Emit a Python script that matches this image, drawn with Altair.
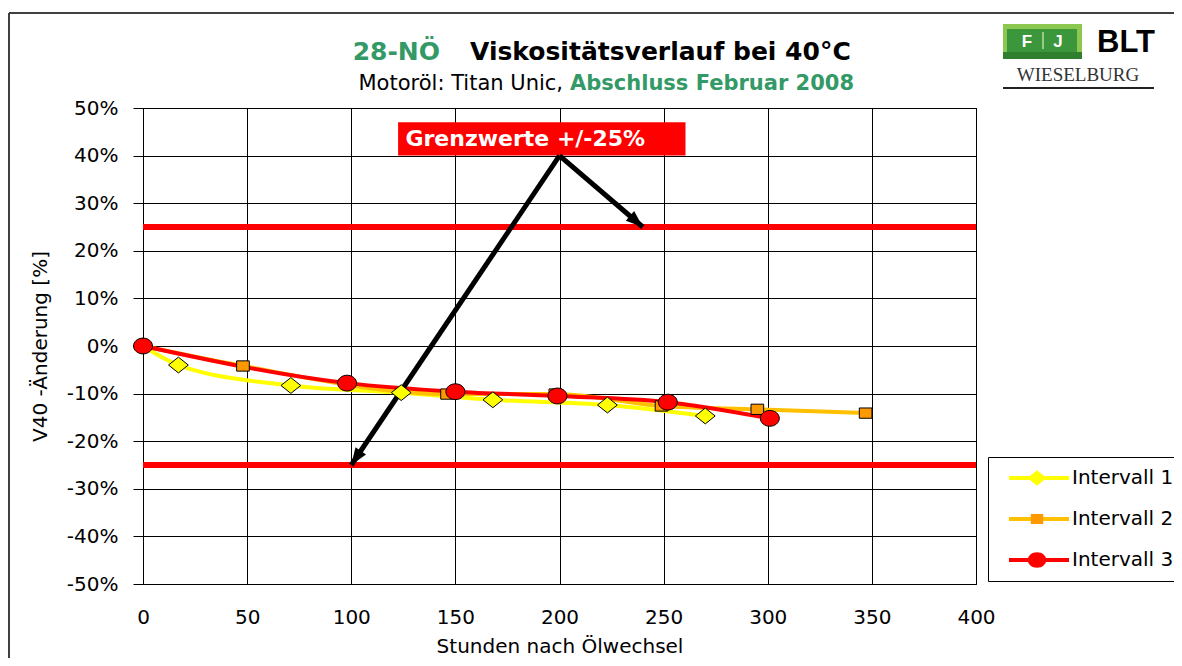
import altair as alt
import pandas as pd

# ---------------- data ----------------
series = ["Intervall 1", "Intervall 2", "Intervall 3"]
hours_1 = [0, 17, 71, 124, 168, 223, 270]
change_1 = [0.0, -4.0, -8.3, -9.8, -11.3, -12.4, -14.7]
hours_2 = [0, 48, 146, 198, 249, 295, 347]
change_2 = [0.0, -4.2, -10.1, -10.1, -12.6, -13.3, -14.1]
hours_3 = [0, 98, 150, 199, 252, 301]
change_3 = [0.0, -7.8, -9.6, -10.5, -11.8, -15.2]

limit_values = [25, -25]
x_tick_values = [0, 50, 100, 150, 200, 250, 300, 350, 400]
y_tick_values = [-50, -40, -30, -20, -10, 0, 10, 20, 30, 40, 50]

label_text = "Grenzwerte +/-25%"
label_box_hours = [122.5, 260.5]
label_box_change = [40.0, 47.0]
label_anchor_hours = [126]
label_anchor_change = [43.5]

arrow_start_hours = [200, 200]
arrow_start_change = [40, 40]
arrow_end_hours = [240, 100]
arrow_end_change = [25, -25]
arrow_angles = [131, 214]

# ---------------- styles ----------------
line_colors = ["#FFFF00", "#FFC000", "#FF0000"]
fill_colors = ["#FFFF00", "#FF9900", "#FF0000"]
shapes = [
    "M-1.25,0L0,-1L1.25,0L0,1Z",
    "M-0.8,-0.65L0.8,-0.65L0.8,0.65L-0.8,0.65Z",
    "M-1.2,0A1.2,1,0,1,0,1.2,0A1.2,1,0,1,0,-1.2,0Z",
]
GREEN = "#339966"
FONT = "DejaVu Sans"

line_names = [s + " " for s in series]  # distinct domain so the two legends stay separate

rows = []
for name, lname, hs, vs in zip(series, line_names, [hours_1, hours_2, hours_3],
                               [change_1, change_2, change_3]):
    for h, v in zip(hs, vs):
        rows.append({"h": h, "v": v, "Serie": name, "Linie": lname})
df = pd.DataFrame(rows)

limits_df = pd.DataFrame({"v": limit_values})
box_df = pd.DataFrame({"h": [label_box_hours[0]], "h2": [label_box_hours[1]],
                       "v": [label_box_change[0]], "v2": [label_box_change[1]]})
label_df = pd.DataFrame({"h": label_anchor_hours, "v": label_anchor_change, "t": [label_text]})
arrow_df = pd.DataFrame({"h": arrow_start_hours, "v": arrow_start_change,
                         "h2": arrow_end_hours, "v2": arrow_end_change})
head_df = pd.DataFrame({"h": arrow_end_hours, "v": arrow_end_change, "angle": arrow_angles})
one = pd.DataFrame({"k": [0]})

x_scale = alt.Scale(domain=[0, 400], nice=False, zero=False)
y_scale = alt.Scale(domain=[-50, 50], nice=False, zero=False)

x_axis = alt.Axis(values=x_tick_values, title="Stunden nach Ölwechsel", grid=True,
                  ticks=False, labelPadding=23, titlePadding=9, labelFlush=False)
y_axis = alt.Axis(values=y_tick_values, labelExpr="datum.value + '%'",
                  title="V40 -Änderung [%]", grid=True, ticks=True, tickSize=10,
                  labelPadding=15, titlePadding=16)


def X(field="h"):
    return alt.X(f"{field}:Q", scale=x_scale, axis=x_axis)


def Y(field="v"):
    return alt.Y(f"{field}:Q", scale=y_scale, axis=y_axis)


limits = alt.Chart(limits_df).mark_rule(color="#FF0000", strokeWidth=6).encode(y=Y())

box = alt.Chart(box_df).mark_rect(color="#FF0000").encode(
    x=X(), x2="h2", y=Y(), y2="v2")

box_text = alt.Chart(label_df).mark_text(
    align="left", baseline="middle", font=FONT, fontSize=22, fontWeight="bold", color="white"
).encode(x=X(), y=Y(), text="t:N")

LEG_X, LEG_Y = 845, 349

line_legend = alt.Legend(
    title=None, orient="none", legendX=LEG_X, legendY=LEG_Y, padding=11, rowPadding=21,
    symbolType="M-5,0L5,0", symbolSize=144, symbolStrokeWidth=4, symbolOffset=30,
    labelOffset=23, labelFont=FONT, labelFontSize=20, labelColor="black",
    strokeColor="black", fillColor="white", zindex=1)

point_legend = alt.Legend(
    title=None, orient="none", legendX=LEG_X, legendY=LEG_Y, padding=11, rowPadding=21,
    symbolSize=240, symbolStrokeColor="black", symbolStrokeWidth=1, symbolOffset=28,
    labelOffset=23, labelFont=FONT, labelFontSize=20, labelOpacity=0, zindex=2)

lines = alt.Chart(df).mark_line(interpolate="monotone", strokeWidth=4).encode(
    x=X(), y=Y(),
    stroke=alt.Stroke("Linie:N", scale=alt.Scale(domain=line_names, range=line_colors),
                      legend=line_legend))

arrows = alt.Chart(arrow_df).mark_rule(color="black", strokeWidth=5).encode(
    x=X(), y=Y(), x2="h2", y2="v2")

heads = alt.Chart(head_df).mark_point(
    shape="M0,0L-0.75,2L0.75,2Z", size=289, filled=True, color="black", opacity=1
).encode(x=X(), y=Y(), angle=alt.Angle("angle:Q", scale=None))

points = alt.Chart(df).mark_point(
    filled=True, stroke="black", strokeWidth=1, opacity=1, size=250
).encode(
    x=X(), y=Y(),
    fill=alt.Fill("Serie:N", scale=alt.Scale(domain=series, range=fill_colors), legend=point_legend),
    shape=alt.Shape("Serie:N", scale=alt.Scale(domain=series, range=shapes), legend=point_legend))

# ---------------- decorations: frame, titles, logo ----------------
frame_top = alt.Chart(one).mark_rule(color="#404040", strokeWidth=2).encode(
    x=alt.value(-134), x2=alt.value(1040), y=alt.value(-95))
frame_left = alt.Chart(one).mark_rule(color="#404040", strokeWidth=2).encode(
    x=alt.value(-134), y=alt.value(-95), y2=alt.value(560))


def txt(text, x, y, align, size, weight="normal", color="black", font=FONT):
    return alt.Chart(one).mark_text(
        text=text, align=align, baseline="alphabetic", font=font, fontSize=size,
        fontWeight=weight, color=color).encode(x=alt.value(x), y=alt.value(y))


t1 = txt("28-NÖ", 297, -48, "right", 25, "bold", GREEN)
t2 = txt("Viskositätsverlauf bei 40°C", 327, -48, "left", 25, "bold")
s1 = txt("Motoröl: Titan Unic,", 420, -18, "right", 21)
s2 = txt("Abschluss Februar 2008", 427, -18, "left", 21, "bold", GREEN)


def rect(x, x2, y, y2, color):
    return alt.Chart(one).mark_rect(color=color).encode(
        x=alt.value(x), x2=alt.value(x2), y=alt.value(y), y2=alt.value(y2))


logo_outer = rect(860, 939, -84, -49, "#8CC850")
logo_shadow = rect(860, 939, -56, -49, "#2F7F2F")
logo_inner = rect(864, 934, -79, -56, "#3C963C")
logo_sep = alt.Chart(one).mark_rule(color="#B8DCA0", strokeWidth=1.5).encode(
    x=alt.value(900), y=alt.value(-76), y2=alt.value(-59))
logo_f = txt("F", 884, -61, "center", 17, "bold", "white", "Liberation Sans")
logo_j = txt("J", 915, -61, "center", 17, "bold", "white", "Liberation Sans")
logo_blt = txt("BLT", 954, -56, "left", 31, "bold", "black", "Liberation Sans")
logo_wies = txt("WIESELBURG", 935, -27, "center", 19, "normal", "#333333", "Liberation Serif")
logo_line = alt.Chart(one).mark_rule(color="#222222", strokeWidth=2).encode(
    x=alt.value(860), x2=alt.value(1011), y=alt.value(-20))

chart = alt.layer(
    limits, box, box_text, lines, arrows, heads, points,
    frame_top, frame_left, t1, t2, s1, s2,
    logo_outer, logo_shadow, logo_inner, logo_sep, logo_f, logo_j, logo_blt, logo_wies, logo_line
).properties(
    width=833, height=476,
    autosize=alt.AutoSizeParams(type="none"),
    padding={"left": 135, "top": 100, "right": 198, "bottom": 74},
    background="white",
).configure_view(
    stroke="#000000", strokeWidth=1
).configure_axis(
    labelFont=FONT, labelFontSize=20, labelColor="black",
    titleFont=FONT, titleFontSize=20, titleFontWeight="normal", titleColor="black",
    gridColor="#000000", gridWidth=1, gridOpacity=1,
    domainColor="#000000", domainWidth=1, tickColor="#000000",
)

chart.save("out.html", embed_options={"renderer": "svg", "actions": False})
